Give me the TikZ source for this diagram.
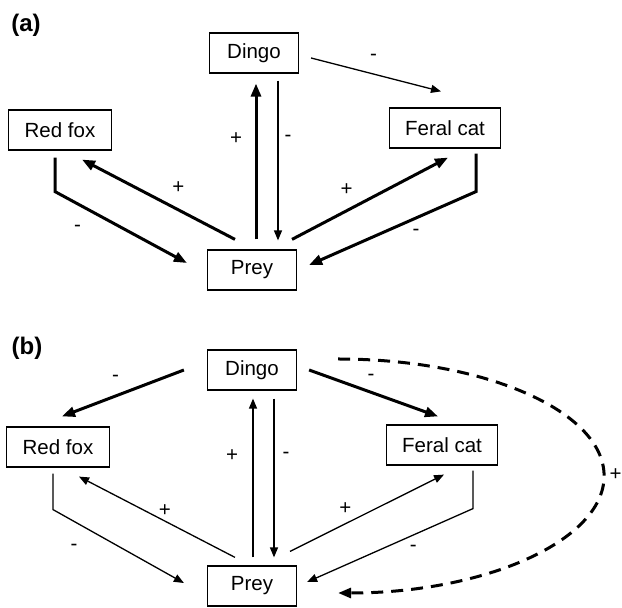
\documentclass[tikz,border=0pt]{standalone}
\usepackage{fontspec}
\setmainfont{Liberation Sans}
\usetikzlibrary{arrows.meta,calc}

\begin{document}
\begin{tikzpicture}[x=1pt,y=1pt,font=\fontsize{20.5}{24}\selectfont,
  box/.style={draw,line width=1.2pt,minimum width=89pt,minimum height=40pt,inner xsep=16pt},
  strong/.style={line width=3pt,-{Triangle[length=13pt,width=10pt]}},
  weak/.style={line width=1.3pt,-{Triangle[length=10pt,width=8pt]}},
  loop/.style={line width=3pt,dash pattern=on 12pt off 8pt,-{Triangle[length=13pt,width=10pt]}},
  sign/.style={inner sep=0pt},
  panel/.style={font=\fontsize{24}{28}\selectfont\bfseries}]
  \useasboundingbox (0,0) rectangle (622,608);

  % panel (a)
  \node[panel] (tagA) at (26,583) {(a)};
  \node[box] (dingoA) at (254,555) {Dingo};
  \node[box] (foxA) at (60,478) {Red fox};
  \node[box] (catA) at (445,480) {Feral cat};
  \node[box] (preyA) at (252,338) {Prey};

  \draw[weak] ([xshift=12pt,yshift=-5pt]dingoA.east)
    -- node[sign,pos=.48,yshift=17pt] {-} ([xshift=-4pt,yshift=16pt]catA.north);
  \draw[strong] ([xshift=4pt,yshift=10pt]preyA.north)
    -- node[sign,pos=.65,xshift=-20pt] {+} ([xshift=2pt,yshift=-10pt]dingoA.south);
  \draw[weak] ([xshift=24pt,yshift=-7pt]dingoA.south)
    -- node[sign,pos=.36,xshift=10pt] {-} ([xshift=26pt,yshift=9pt]preyA.north);
  \draw[strong] ([xshift=-17pt,yshift=10pt]preyA.north)
    -- node[sign,pos=.37,yshift=22pt] {+} ([xshift=22pt,yshift=-9pt]foxA.south);
  \draw[strong] ([xshift=-5pt,yshift=-7pt]foxA.south) -- ++(0,-34)
    -- node[sign,pos=.17,yshift=-25pt] {-} ([xshift=-20pt,yshift=7pt]preyA.west);
  \draw[strong] ([xshift=40pt,yshift=10pt]preyA.north)
    -- node[sign,pos=.35,yshift=21pt] {+} ([xshift=3pt,yshift=-9pt]catA.south);
  \draw[strong] ([xshift=31pt,yshift=-5pt]catA.south) -- ++(0,-38)
    -- node[sign,pos=.36,yshift=-14pt] {-} ([xshift=12pt,yshift=5pt]preyA.east);

  % panel (b)
  \node[panel] (tagB) at (27,260) {(b)};
  \node[box] (dingoB) at (252,238) {Dingo};
  \node[box] (foxB) at (58,161) {Red fox};
  \node[box] (catB) at (442,163) {Feral cat};
  \node[box] (preyB) at (252,22) {Prey};

  \draw[strong] ([xshift=-23pt]dingoB.west)
    -- node[sign,pos=.56,yshift=18pt] {-} ([xshift=4pt,yshift=10pt]foxB.north);
  \draw[strong] ([xshift=12pt]dingoB.east)
    -- node[sign,pos=.48,yshift=15pt] {-} ([xshift=-4pt,yshift=8pt]catB.north);
  \draw[weak] ([xshift=1pt,yshift=8pt]preyB.north)
    -- node[sign,pos=.64,xshift=-21pt] {+} ([xshift=1pt,yshift=-8pt]dingoB.south);
  \draw[weak] ([xshift=22pt,yshift=-8pt]dingoB.south)
    -- node[sign,pos=.36,xshift=12pt] {-} ([xshift=22pt,yshift=8pt]preyB.north);
  \draw[weak] ([xshift=-17pt,yshift=8pt]preyB.north)
    -- node[sign,pos=.45,yshift=10pt] {+} ([xshift=21pt,yshift=-9pt]foxB.south);
  \draw[weak] ([xshift=-5pt,yshift=-6pt]foxB.south) -- ++(0,-36)
    -- node[sign,pos=.16,yshift=-26pt] {-} ([xshift=-23pt,yshift=3pt]preyB.west);
  \draw[weak] ([xshift=38pt,yshift=14pt]preyB.north)
    -- node[sign,pos=.36,yshift=15pt] {+} ([xshift=2pt,yshift=-9pt]catB.south);
  \draw[weak] ([xshift=31pt,yshift=-5pt]catB.south) -- ++(0,-38)
    -- node[sign,pos=.36,yshift=-13pt] {-} ([xshift=10pt,yshift=4pt]preyB.east);
  \draw[loop] ([xshift=41pt,yshift=11pt]dingoB.east)
    arc[start angle=90,end angle=-90,x radius=266,y radius=117];
  \node[sign] (loopsign) at (615.5,133) {+};
\end{tikzpicture}
\end{document}
